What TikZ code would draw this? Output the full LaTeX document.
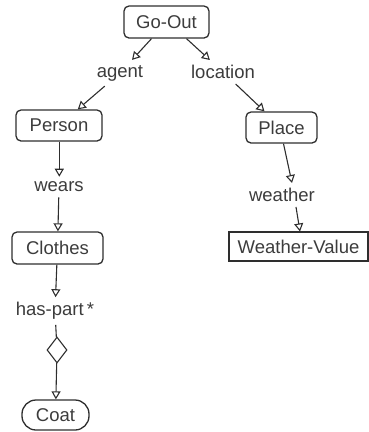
\documentclass[tikz,border=0pt]{standalone}
\usepackage{fontspec}
\setmainfont{Liberation Sans}
\usetikzlibrary{arrows.meta,shapes.geometric}
\definecolor{ink}{HTML}{2E2E2E}
\definecolor{txt}{HTML}{3C3C3C}
\begin{document}
\begin{tikzpicture}[x=1pt,y=-1pt,
  every node/.style={font=\fontsize{18.5}{21}\selectfont, text=txt},
  cbox/.style={draw=ink, rounded corners=5pt, line width=1.3pt, inner sep=0pt},
  sbox/.style={draw=ink, line width=1.1pt, inner sep=0pt},
  rel/.style={inner sep=5pt},
  arr/.style={draw=ink, line width=1.1pt, -{Triangle[open,length=8pt,width=9pt,line width=1.1pt]}},
  plain/.style={draw=ink, line width=1.1pt}]
\useasboundingbox (0,0) rectangle (369,432);
\node[cbox, minimum width=85pt, minimum height=32pt] (goout) at (166.5,22) {Go-Out};
\node[rel] (agent) at (120,73) {agent};
\node[rel] (location) at (223,72) {location};
\node[cbox, minimum width=86pt, minimum height=31pt] (person) at (59,125.5) {Person};
\node[cbox, minimum width=71pt, minimum height=31pt] (place) at (281.5,127.5) {Place};
\node[rel] (wears) at (59,187) {wears};
\node[rel] (weather) at (282,195) {weather};
\node[cbox, minimum width=91pt, minimum height=32pt] (clothes) at (57.5,248) {Clothes};
\node[sbox, minimum width=139pt, minimum height=29pt] (wv) at (298.5,246.5) {Weather-Value};
\node[rel] (haspart) at (55,311) {has-part\,*};
\node[diamond, draw=ink, line width=1.1pt, minimum width=20pt, minimum height=26pt, inner sep=0pt] (dia) at (57,350) {};
\node[cbox, rounded corners=14pt, minimum width=67pt, minimum height=30pt] (coat) at (55.5,415) {Coat};

\draw[arr] ([xshift=-15pt]goout.south) -- (agent);
\draw[arr] ([xshift=20pt]goout.south) -- (location);
\draw[arr] (agent) -- (person);
\draw[arr] (location) -- (place);
\draw[arr] ([xshift=0.3pt]person.south) -- ([xshift=0.3pt]wears.north);
\draw[arr] (wears) -- (clothes);
\draw[arr] ([xshift=2pt]place.south) -- ([xshift=10pt]weather.north);
\draw[arr] ([xshift=14pt]weather.south) -- ([xshift=1.5pt]wv.north);
\draw[arr] (clothes) -- (haspart);
\draw[plain] (haspart) -- (dia);
\draw[arr] (dia) -- (coat);
\end{tikzpicture}
\end{document}
